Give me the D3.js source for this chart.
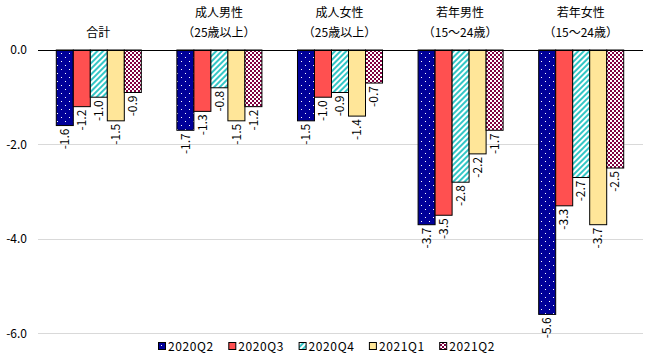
<!DOCTYPE html>
<html><head><meta charset="utf-8">
<script src="https://cdn.jsdelivr.net/npm/d3@7"></script>
<style>
body{margin:0;background:#fff;}
text{font-family:"Noto Sans CJK JP","Noto Sans",sans-serif;}
</style></head>
<body><svg id="c" width="647" height="358"></svg>
<script>
const categories = [["合計"],["成人男性","（25歳以上）"],["成人女性","（25歳以上）"],["若年男性","（15～24歳）"],["若年女性","（15～24歳）"]];
const seriesNames = ["2020Q2","2020Q3","2020Q4","2021Q1","2021Q2"];
const s2020Q2 = [-1.6,-1.7,-1.5,-3.7,-5.6];
const s2020Q3 = [-1.2,-1.3,-1.0,-3.5,-3.3];
const s2020Q4 = [-1.0,-0.8,-0.9,-2.8,-2.7];
const s2021Q1 = [-1.5,-1.5,-1.4,-2.2,-3.7];
const s2021Q2 = [-0.9,-1.2,-0.7,-1.7,-2.5];
const yTicks = [0,-2,-4,-6];
const seriesValues = [s2020Q2,s2020Q3,s2020Q4,s2021Q1,s2021Q2];

const fmt = v => d3.format(".1f")(v).replace("\u2212","-");
const svg = d3.select("#c");
const defs = svg.append("defs");
// patterns
const p1 = defs.append("pattern").attr("id","pDots").attr("patternUnits","userSpaceOnUse").attr("width",8).attr("height",8);
p1.append("rect").attr("width",8).attr("height",8).attr("fill","#000099");
p1.append("rect").attr("x",1).attr("y",1).attr("width",1).attr("height",1).attr("fill","#fff");
p1.append("rect").attr("x",5).attr("y",5).attr("width",1).attr("height",1).attr("fill","#fff");
const p3 = defs.append("pattern").attr("id","pStripe").attr("patternUnits","userSpaceOnUse").attr("width",4).attr("height",4).attr("patternTransform","rotate(45)");
p3.append("rect").attr("width",4).attr("height",4).attr("fill","#fff");
p3.append("rect").attr("width",2).attr("height",4).attr("fill","#33C6C6");
const p5 = defs.append("pattern").attr("id","pCheck").attr("patternUnits","userSpaceOnUse").attr("width",4).attr("height",4);
p5.append("rect").attr("width",4).attr("height",4).attr("fill","#fff");
p5.append("rect").attr("width",2).attr("height",2).attr("fill","#800040");
p5.append("rect").attr("x",2).attr("y",2).attr("width",2).attr("height",2).attr("fill","#800040");
const fills = ["url(#pDots)","#FF5050","url(#pStripe)","#FFE699","url(#pCheck)"];

const x0 = d3.scaleBand().domain(d3.range(categories.length)).range([38,641]).paddingInner(0.295).paddingOuter(0.1475);
const x1 = d3.scaleBand().domain(d3.range(seriesNames.length)).range([0,x0.bandwidth()]);
const y = d3.scaleLinear().domain([-6,0]).range([333.3,50]);

// gridlines
svg.append("g").selectAll("line").data(yTicks.filter(d=>d!==0)).join("line")
  .attr("x1",38).attr("x2",643).attr("y1",d=>Math.round(y(d))+0.5).attr("y2",d=>Math.round(y(d))+0.5)
  .attr("stroke","#d9d9d9").attr("stroke-width",1);
// y labels
svg.append("g").selectAll("text").data(yTicks).join("text")
  .attr("x",27).attr("y",d=>y(d)).attr("dy","0.35em").attr("text-anchor","end")
  .attr("font-size",12).attr("fill","#000").text(d=>fmt(d));

// bars
const g = svg.append("g");
categories.forEach((c,i)=>{
  seriesValues.forEach((vals,j)=>{
    const v = vals[i];
    const bx = x0(i)+x1(j);
    g.append("rect").attr("x",bx+0.5).attr("y",y(0)).attr("width",x1.bandwidth()).attr("height",y(v)-y(0))
      .attr("fill",fills[j]).attr("stroke","#000").attr("stroke-width",1);
    const cx = bx + x1.bandwidth()/2 + 0.5;
    const ty = y(v)+3;
    g.append("text").attr("transform",`translate(${cx},${ty}) rotate(-90)`)
      .attr("text-anchor","end").attr("dy","0.35em").attr("font-size",12).attr("fill","#000")
      .text(fmt(v));
  });
  // category labels
  const lines = c;
  const cxc = x0(i)+x0.bandwidth()/2;
  lines.forEach((t,k)=>{
    const yy = lines.length===1 ? 37 : (k===0?17:37);
    svg.append("text").attr("x",cxc).attr("y",yy).attr("text-anchor","middle")
      .attr("font-size",12).attr("fill","#000").text(t);
  });
});
// zero line
svg.append("line").attr("x1",38).attr("x2",643).attr("y1",50.5).attr("y2",50.5).attr("stroke","#000").attr("stroke-width",1);

// legend
const lg = svg.append("g");
seriesNames.forEach((n,j)=>{
  const lx = 158 + j*70.3;
  lg.append("rect").attr("x",lx+0.5).attr("y",342.5).attr("width",7).attr("height",7)
    .attr("fill",fills[j]).attr("stroke","#000").attr("stroke-width",1);
  lg.append("text").attr("x",lx+10).attr("y",346.5).attr("dy","0.35em").attr("font-size",12)
    .attr("fill","#000").attr("letter-spacing",0.6).text(n);
});
</script></body></html>
